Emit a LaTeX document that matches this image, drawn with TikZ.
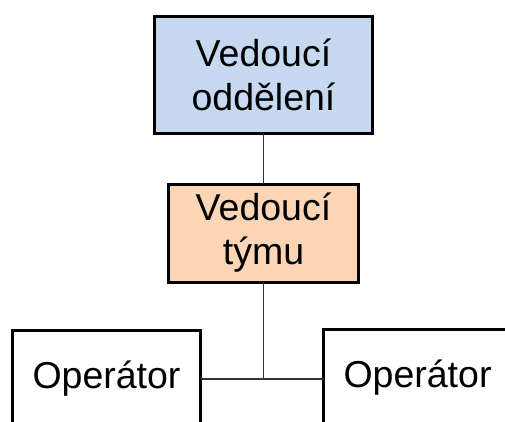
\documentclass[tikz,border=0pt]{standalone}
\usepackage{fontspec}
\setmainfont{Liberation Sans}
\definecolor{cblue}{HTML}{C6D9F1}
\definecolor{corange}{HTML}{FBD5B5}
\definecolor{cline}{HTML}{333333}
\tikzset{
  every picture/.style={line width=1.5pt},
  box/.style={draw=black, fill=#1, line width=3pt, align=center, inner sep=0pt, outer sep=0pt,
    minimum width=190pt, minimum height=98pt, font=\fontsize{37.5}{44}\selectfont},
  box/.default=white,
  link/.style={draw=cline, line width=1.6pt},
}

\begin{document}
\begin{tikzpicture}[x=1pt, y=-1pt]
  \useasboundingbox (0,0) rectangle (505,422);
  \clip (0,0) rectangle (505,422);
  \node[box=cblue, minimum width=218pt, minimum height=117pt] (head) at (263.5,75) {Vedoucí\\oddělení};
  \node[box=corange] (lead) at (263.5,233) {Vedoucí\\týmu};
  \node[box, minimum width=188pt] (opleft) at (106.5,379) {Operátor};
  \node[box, minimum width=188pt] (opright) at (417.5,378) {Operátor};
  \coordinate (fork) at (263.5,379);
  \draw[link] (head) -- (lead);
  \draw[link] (lead) -- (fork);
  \draw[link] (opleft.east |- fork) -- (opright.west |- fork);
\end{tikzpicture}
\end{document}
